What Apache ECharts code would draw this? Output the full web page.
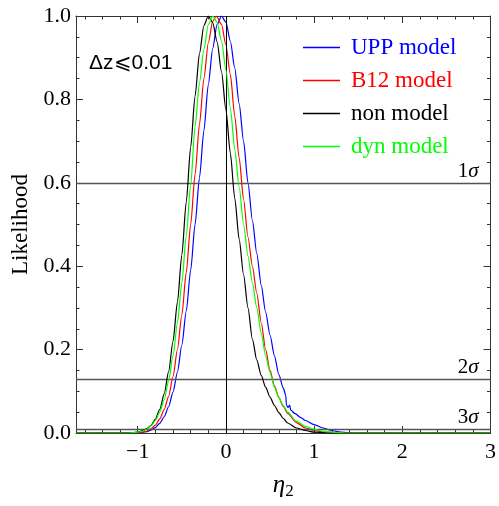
<!DOCTYPE html>
<html>
<head>
<meta charset="utf-8">
<script src="https://cdn.jsdelivr.net/npm/echarts@6/dist/echarts.min.js"></script>
<style>
html, body { margin: 0; padding: 0; background: #fff; }
#container { width: 499px; height: 506px; }
</style>
</head>
<body>
<div id="container"></div>
<script>
let names = ['UPP model', 'B12 model', 'non model', 'dyn model'];
let colors = ['#0000ff', '#ff0000', '#000000', '#00ff00'];

// [eta2, likelihood]
let upp = [[-1.7,0],[-1.0,0],[-0.9,0.003],[-0.85,0.007],[-0.8,0.013],[-0.75,0.023],[-0.7,0.039],[-0.65,0.063],[-0.6,0.098],[-0.55,0.146],[-0.5,0.211],[-0.45,0.292],[-0.4,0.39],[-0.35,0.5],[-0.3,0.612],[-0.25,0.725],[-0.2,0.835],[-0.15,0.922],[-0.1,0.98],[-0.05,1.0],[0,0.985],[0.05,0.94],[0.1,0.875],[0.15,0.79],[0.2,0.70],[0.25,0.60],[0.3,0.51],[0.35,0.43],[0.4,0.355],[0.45,0.29],[0.5,0.235],[0.55,0.185],[0.6,0.14],[0.65,0.108],[0.678,0.091],[0.686,0.067],[0.704,0.061],[0.723,0.067],[0.735,0.055],[0.78,0.047],[0.85,0.037],[0.9,0.03],[1.0,0.02],[1.1,0.012],[1.2,0.006],[1.3,0.002],[1.45,0],[3,0]];
let b12 = [[-1.7,0],[-1.05,0],[-0.95,0.002],[-0.9,0.004],[-0.85,0.01],[-0.8,0.019],[-0.75,0.034],[-0.7,0.056],[-0.65,0.088],[-0.6,0.135],[-0.55,0.2],[-0.5,0.283],[-0.45,0.385],[-0.4,0.5],[-0.35,0.62],[-0.3,0.74],[-0.25,0.85],[-0.2,0.935],[-0.15,0.987],[-0.11,1.0],[-0.05,0.98],[0,0.93],[0.05,0.86],[0.1,0.76],[0.15,0.66],[0.2,0.56],[0.25,0.47],[0.3,0.40],[0.35,0.335],[0.4,0.265],[0.45,0.2],[0.5,0.15],[0.55,0.113],[0.6,0.085],[0.65,0.064],[0.7,0.047],[0.8,0.025],[0.9,0.012],[1.0,0.006],[1.1,0.003],[1.3,0],[3,0]];
let non = [[-1.7,0],[-1.1,0],[-1.0,0.002],[-0.95,0.005],[-0.9,0.01],[-0.85,0.018],[-0.8,0.033],[-0.75,0.057],[-0.7,0.094],[-0.65,0.147],[-0.6,0.22],[-0.55,0.314],[-0.5,0.427],[-0.45,0.554],[-0.4,0.685],[-0.35,0.808],[-0.3,0.91],[-0.25,0.977],[-0.2,1.0],[-0.15,0.984],[-0.1,0.938],[-0.05,0.866],[0,0.775],[0.05,0.671],[0.1,0.563],[0.15,0.465],[0.2,0.38],[0.25,0.30],[0.3,0.225],[0.35,0.175],[0.4,0.138],[0.45,0.11],[0.5,0.086],[0.55,0.066],[0.6,0.049],[0.65,0.035],[0.7,0.024],[0.8,0.012],[0.9,0.006],[1.0,0.002],[1.2,0],[3,0]];
let dyn = [[-1.7,0],[-1.1,0],[-1.0,0.002],[-0.95,0.004],[-0.9,0.009],[-0.85,0.017],[-0.8,0.03],[-0.75,0.05],[-0.7,0.08],[-0.65,0.125],[-0.6,0.185],[-0.55,0.264],[-0.5,0.36],[-0.45,0.472],[-0.4,0.594],[-0.35,0.735],[-0.3,0.84],[-0.25,0.92],[-0.2,0.979],[-0.15,1.0],[-0.1,0.985],[-0.05,0.94],[0,0.87],[0.05,0.78],[0.1,0.68],[0.15,0.59],[0.2,0.5],[0.25,0.425],[0.3,0.36],[0.35,0.30],[0.4,0.24],[0.45,0.185],[0.5,0.145],[0.55,0.11],[0.6,0.085],[0.65,0.066],[0.7,0.05],[0.8,0.028],[0.9,0.016],[1.0,0.009],[1.1,0.004],[1.2,0.002],[1.35,0],[3,0]];

let xMajor = [-1, 0, 1, 2, 3];
let xMinor = [-1.6,-1.4,-1.2,-0.8,-0.6,-0.4,-0.2,0.2,0.4,0.6,0.8,1.2,1.4,1.6,1.8,2.2,2.4,2.6,2.8];
let sigmaLevels = [0.6, 0.13, 0.008];
let sigmaNames = ['1', '2', '3'];
let boxNote = 'Δz⩽0.01';

let serif = 'Liberation Serif';
let frame = '#333';

function xAxisOf(pos, ticks, len, withLine, withLabel) {
    return {
        type: 'value', position: pos, min: -1.7, max: 3,
        axisLine: { show: withLine, onZero: false, lineStyle: { color: frame, width: 1 } },
        axisTick: { show: true, inside: true, length: len, customValues: ticks, lineStyle: { color: frame } },
        axisLabel: withLabel ? {
            customValues: ticks, margin: 8, color: '#000', fontFamily: serif, fontSize: 22,
            formatter: v => (v < 0 ? '\u2212' + Math.abs(v) : String(v))
        } : { show: false },
        splitLine: { show: false }
    };
}

function yAxisOf(pos, withLabel) {
    return {
        type: 'value', position: pos, min: 0, max: 1, interval: 0.2,
        axisLine: { show: true, onZero: false, lineStyle: { color: frame, width: 1 } },
        axisTick: { show: true, inside: true, length: 7, lineStyle: { color: frame } },
        minorTick: { show: true, splitNumber: 4, length: 3.5, lineStyle: { color: frame } },
        axisLabel: withLabel ? {
            margin: 5, color: '#000', fontFamily: serif, fontSize: 22,
            formatter: v => v.toFixed(1)
        } : { show: false },
        splitLine: { show: false }
    };
}

let xBottom = xAxisOf('bottom', xMajor, 7, true, true);
xBottom.name = '{i|η}{s|2}';
xBottom.nameLocation = 'middle';
xBottom.nameGap = 38;
xBottom.nameTextStyle = {
    rich: {
        i: { fontFamily: serif, fontStyle: 'italic', fontSize: 25, color: '#000' },
        s: { fontFamily: serif, fontSize: 17, color: '#000', padding: [12, 0, 0, 0] }
    }
};

let yLeft = yAxisOf('left', true);
yLeft.name = 'Likelihood';
yLeft.nameLocation = 'middle';
yLeft.nameGap = 41;
yLeft.nameTextStyle = { fontFamily: serif, fontSize: 23, color: '#000' };

let curves = [upp, b12, non, dyn];
let series = curves.map((d, i) => ({
    name: names[i], type: 'line', data: d, showSymbol: false, smooth: 0.25,
    smoothMonotone: 'x', color: colors[i],
    lineStyle: { color: colors[i], width: 1.2 }, z: 3 + i
}));

let sigmaLines = sigmaLevels.map((v, i) => ({
    yAxis: v,
    label: { formatter: '{n|' + sigmaNames[i] + '}{g|σ}' }
}));

series.unshift({
    name: 'refs', type: 'line', data: [], z: 2,
    markLine: {
        silent: true, symbol: 'none', animation: false,
        lineStyle: { color: '#555', width: 1.4, type: 'solid' },
        label: {
            show: true, position: 'insideEndTop', distance: [12, 1],
            rich: {
                n: { fontFamily: serif, fontSize: 21, color: '#000' },
                g: { fontFamily: serif, fontStyle: 'italic', fontSize: 21, color: '#000' }
            }
        },
        data: sigmaLines.concat([[
            { coord: [0, 0], lineStyle: { color: '#000', width: 1 }, label: { show: false } },
            { coord: [0, 1] }
        ]])
    }
});

let myChart = echarts.init(document.getElementById('container'));
let option = {
    animation: false,
    title: {
        text: boxNote, left: 84, top: 48,
        textStyle: { fontFamily: 'Liberation Sans', fontSize: 21, fontWeight: 'normal', color: '#000' }
    },
    legend: {
        orient: 'vertical', left: 298, top: 31, itemWidth: 37, itemHeight: 1.5, itemGap: 10,
        icon: 'path://M0 0 H100 V4 H0 Z',
        data: names.map((n, i) => ({ name: n, textStyle: { color: colors[i] } })),
        textStyle: { fontFamily: serif, fontSize: 23, lineHeight: 23, padding: [0, 0, 0, 6] }
    },
    grid: { left: 76, right: 5, top: 16, bottom: 73 },
    xAxis: [
        xBottom,
        xAxisOf('bottom', xMinor, 3.5, false, false),
        xAxisOf('top', xMajor, 7, true, false),
        xAxisOf('top', xMinor, 3.5, false, false)
    ],
    yAxis: [yLeft, yAxisOf('right', false)],
    series: series
};
myChart.setOption(option, true);
</script>
</body>
</html>
